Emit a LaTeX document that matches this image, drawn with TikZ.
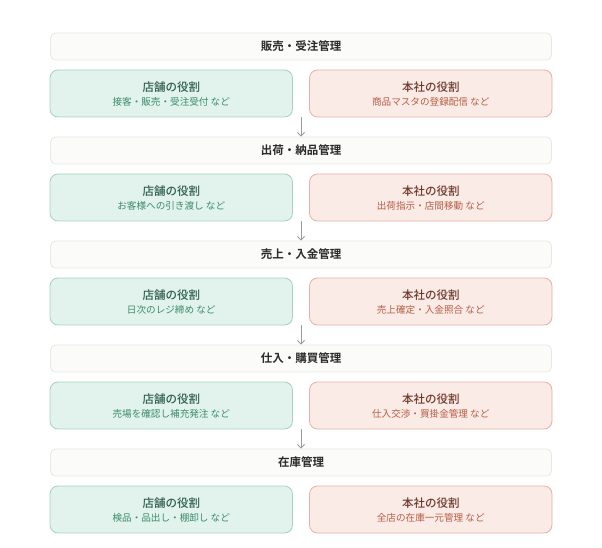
\documentclass[tikz,border=0pt]{standalone}
\usepackage{fontspec}
\setmainfont{Noto Sans CJK JP}[BoldFont=Noto Sans CJK JP Bold]
\newfontfamily\jpmed{Noto Sans CJK JP Medium}
\usetikzlibrary{arrows.meta}
\definecolor{hdrfill}{HTML}{FBFBF9}
\definecolor{hdrline}{HTML}{E8E8E4}
\definecolor{hdrtext}{HTML}{2B2B2B}
\definecolor{gfill}{HTML}{E1F3EC}
\definecolor{gline}{HTML}{A3D3C1}
\definecolor{gtitle}{HTML}{2F5E4E}
\definecolor{gsub}{HTML}{3B8B6B}
\definecolor{rfill}{HTML}{FBEBE6}
\definecolor{rline}{HTML}{E3B2A4}
\definecolor{rtitle}{HTML}{6E3A2C}
\definecolor{rsub}{HTML}{B65D44}
\definecolor{arrowc}{HTML}{9A9A9A}
\tikzset{
  hdr/.style={draw=hdrline, fill=hdrfill, line width=0.8pt, rounded corners=5pt,
    minimum width=501pt, minimum height=27pt, inner sep=0pt,
    font=\bfseries\fontsize{11.5}{13}\selectfont, text=hdrtext},
  gbox/.style={draw=gline, fill=gfill, line width=0.8pt, rounded corners=8pt,
    minimum width=242.5pt, minimum height=47pt, inner sep=0pt},
  rbox/.style={draw=rline, fill=rfill, line width=0.8pt, rounded corners=8pt,
    minimum width=242.5pt, minimum height=47pt, inner sep=0pt},
  ttl/.style={font=\jpmed\fontsize{11.5}{13}\selectfont, inner sep=0pt},
  sub/.style={font=\fontsize{9.6}{11}\selectfont, inner sep=0pt},
  flow/.style={draw=arrowc, line width=0.9pt, -{Straight Barb[length=3.5pt,width=7pt]}}
}
\begin{document}
\begin{tikzpicture}[x=1pt,y=-1pt]
\useasboundingbox (0,0) rectangle (602,548);
\foreach \k/\H/\G/\R in {
  0/販売・受注管理/接客・販売・受注受付 など/商品マスタの登録配信 など,
  1/出荷・納品管理/お客様への引き渡し など/出荷指示・店間移動 など,
  2/売上・入金管理/日次のレジ締め など/売上確定・入金照合 など,
  3/仕入・購買管理/売場を確認し補充発注 など/仕入交渉・買掛金管理 など,
  4/在庫管理/検品・品出し・棚卸し など/全店の在庫一元管理 など}{
  \pgfmathsetmacro{\oy}{\k*104}
  \node[hdr] (h\k) at (301,46.5+\oy) {\H};
  \node[gbox] (g\k) at (171.25,93.5+\oy) {};
  \node[ttl, text=gtitle] (gt\k) at (171.25,87+\oy) {店舗の役割};
  \node[sub, text=gsub] (gs\k) at (171.25,101.8+\oy) {\G};
  \node[rbox] (r\k) at (430.75,93.5+\oy) {};
  \node[ttl, text=rtitle] (rt\k) at (430.75,87+\oy) {本社の役割};
  \node[sub, text=rsub] (rs\k) at (430.75,101.8+\oy) {\R};
  \coordinate (a\k) at (301,117+\oy);
}
\foreach \k/\n in {0/1,1/2,2/3,3/4}{
  \draw[flow] (a\k) -- (h\n.north);
}
\end{tikzpicture}
\end{document}
